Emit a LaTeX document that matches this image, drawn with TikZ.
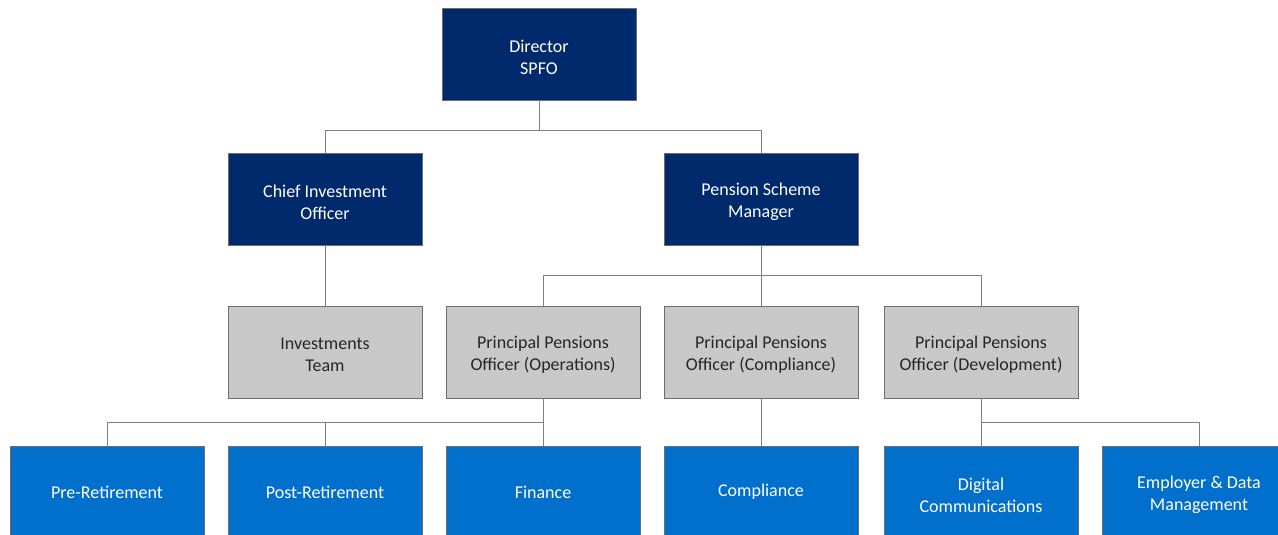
\documentclass[tikz,border=0pt]{standalone}
\usepackage{fontspec}
\setmainfont{Carlito}
\definecolor{navy}{RGB}{0,42,108}
\definecolor{midblue}{RGB}{0,112,204}
\definecolor{boxgrey}{RGB}{200,200,200}
\definecolor{edgegrey}{RGB}{110,110,110}
\definecolor{linegrey}{RGB}{128,128,128}
\definecolor{txtgrey}{RGB}{38,38,38}
\begin{document}
\begin{tikzpicture}[x=1pt,y=-1pt,
  box/.style={rectangle,draw=edgegrey,line width=0.8pt,minimum width=194pt,minimum height=92pt,inner sep=0pt},
  darkbox/.style={box,fill=navy},
  greybox/.style={box,fill=boxgrey},
  bluebox/.style={box,fill=midblue},
  lbl/.style={align=center,inner sep=0pt,font=\fontsize{18}{22}\selectfont},
  wl/.style={lbl,text=white,yshift=-3pt},
  gl/.style={lbl,text=txtgrey,yshift=-3pt},
  wl1/.style={lbl,text=white,yshift=0pt},
  conn/.style={draw=linegrey,line width=1pt}]
\useasboundingbox (0,0) rectangle (1278,535);
\clip (0,0) rectangle (1278,535);
\node[darkbox,label={[wl]center:{Director\\SPFO}}] (dir) at (539,54) {};
\node[darkbox,label={[wl]center:{Chief Investment\\Officer}}] (cio) at (325,199) {};
\node[darkbox,label={[wl]center:{Pension Scheme\\Manager}}] (psm) at (761,199) {};
\node[greybox,label={[gl]center:{Investments\\Team}}] (inv) at (325,352) {};
\node[greybox,label={[gl]center:{Principal Pensions\\Officer (Operations)}}] (ops) at (543,352) {};
\node[greybox,label={[gl]center:{Principal Pensions\\Officer (Compliance)}}] (comp) at (761,352) {};
\node[greybox,label={[gl]center:{Principal Pensions\\Officer (Development)}}] (dev) at (981,352) {};
\node[bluebox,label={[wl1]center:{Pre-Retirement}}] (pre) at (107,492) {};
\node[bluebox,label={[wl1]center:{Post-Retirement}}] (post) at (325,492) {};
\node[bluebox,label={[wl1]center:{Finance}}] (fin) at (543,492) {};
\node[bluebox,label={[wl1]center:{Compliance}}] (cmp) at (761,492) {};
\node[bluebox,label={[wl]center:{Digital\\Communications}}] (dig) at (981,492) {};
\node[bluebox,label={[wl]center:{Employer \& Data\\Management}}] (emp) at (1199,492) {};
% connectors
\draw[conn] (dir.south) -- ++(0,30) -| (cio.north);
\draw[conn] (dir.south) -- ++(0,30) -| (psm.north);
\draw[conn] (cio.south) -- (inv.north);
\draw[conn] (psm.south) -- ++(0,30) -| (ops.north);
\draw[conn] (psm.south) -- (comp.north);
\draw[conn] (psm.south) -- ++(0,30) -| (dev.north);
\draw[conn] (ops.south) -- ++(0,24) -| (pre.north);
\draw[conn] (ops.south) -- ++(0,24) -| (post.north);
\draw[conn] (ops.south) -- (fin.north);
\draw[conn] (comp.south) -- (cmp.north);
\draw[conn] (dev.south) -- (dig.north);
\draw[conn] (dev.south) -- ++(0,24) -| (emp.north);
\end{tikzpicture}
\end{document}
